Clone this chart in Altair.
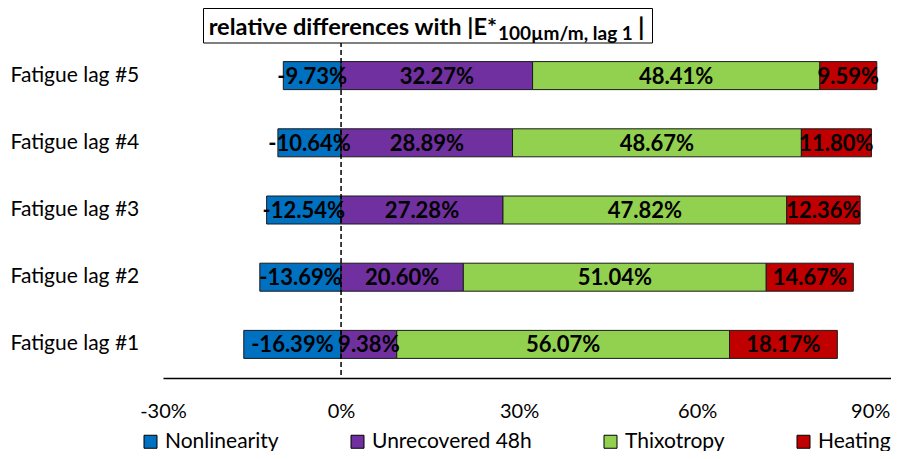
import altair as alt
import pandas as pd

lags = ["Fatigue lag #5", "Fatigue lag #4", "Fatigue lag #3", "Fatigue lag #2", "Fatigue lag #1"]
series = ["Nonlinearity", "Unrecovered 48h", "Thixotropy", "Heating"]
colors = ["#0070C0", "#7030A0", "#92D050", "#C00000"]

nonlinearity = [-9.73, -10.64, -12.54, -13.69, -16.39]
unrecovered = [32.27, 28.89, 27.28, 20.60, 9.38]
thixotropy = [48.41, 48.67, 47.82, 51.04, 56.07]
heating = [9.59, 11.80, 12.36, 14.67, 18.17]

x_ticks = [-30, 0, 30, 60, 90]

rows = []
for i, lag in enumerate(lags):
    rows.append(dict(lag=lag, series=series[0], order=0, start=nonlinearity[i], end=0.0,
                     value=nonlinearity[i]))
    pos = 0.0
    for k, arr in enumerate([unrecovered, thixotropy, heating], start=1):
        v = arr[i]
        rows.append(dict(lag=lag, series=series[k], order=k, start=pos, end=pos + v, value=v))
        pos += v
df = pd.DataFrame(rows)
df["mid"] = (df["start"] + df["end"]) / 2
df["label"] = df["value"].map(lambda v: f"{v:.2f}%")

W, H = 728, 336
xscale = alt.Scale(domain=[-30, 92.66], nice=False, zero=False)
yscale = alt.Scale(domain=lags, paddingInner=0.58, paddingOuter=0.29)

base = alt.Chart(df)

bars = base.mark_bar(size=28, stroke="#1a1a1a", strokeWidth=1).encode(
    x=alt.X("start:Q", scale=xscale,
            axis=alt.Axis(values=x_ticks, labelExpr="datum.value + '%'", title=None,
                          grid=False, ticks=False, tickSize=0, domain=True,
                          domainColor="black", domainWidth=1.5, labelFontSize=20,
                          labelColor="black", labelPadding=23, labelFlush=False,
                          labelOffset={"condition": {"test": "datum.value == 90", "value": -5},
                                       "value": 0})),
    x2="end:Q",
    y=alt.Y("lag:N", scale=yscale,
            axis=alt.Axis(title=None, ticks=False, tickSize=0, domain=False, grid=False,
                          labelAlign="left", labelPadding=153, labelFontSize=21,
                          labelColor="black")),
    color=alt.Color("series:N", scale=alt.Scale(domain=series, range=colors),
                    legend=alt.Legend(title=None, orient="none", direction="horizontal",
                                      legendX=-23, legendY=389, symbolType="square",
                                      symbolSize=169, symbolStrokeColor="black",
                                      symbolStrokeWidth=1, labelFontSize=21,
                                      labelColor="black", labelOffset=4,
                                      columnPadding=68, padding=0)),
    order=alt.Order("order:Q"),
)

zero_line = alt.Chart(pd.DataFrame({"x": [0]})).mark_rule(
    color="black", strokeWidth=1.5, strokeDash=[5, 3]).encode(
    x=alt.X("x:Q", scale=xscale),
    y=alt.value(0), y2=alt.value(H))

labels = base.mark_text(fontSize=22, fontWeight="bold", color="black", baseline="middle",
                        dy=1).encode(
    x=alt.X("mid:Q", scale=xscale),
    y=alt.Y("lag:N", scale=yscale),
    text="label:N",
)

title_box = alt.Chart(pd.DataFrame({"a": [0]})).mark_rect(
    fill="white", stroke="black", strokeWidth=1).encode(
    x=alt.value(40.5), x2=alt.value(489.5), y=alt.value(-33.5), y2=alt.value(1))

title_main = alt.Chart(pd.DataFrame({"t": ["relative differences with  |E*"]})).mark_text(
    fontSize=23.6, fontWeight="bold", color="black", align="right", baseline="alphabetic").encode(
    x=alt.value(334), y=alt.value(-7), text="t:N")
title_sub = alt.Chart(pd.DataFrame({"t": ["100µm/m, lag 1"]})).mark_text(
    fontSize=19, fontWeight="bold", color="black", align="left", baseline="alphabetic").encode(
    x=alt.value(335), y=alt.value(-2), text="t:N")
title_end = alt.Chart(pd.DataFrame({"t": ["|"]})).mark_text(
    fontSize=25, fontWeight="bold", color="black", align="left", baseline="alphabetic").encode(
    x=alt.value(475), y=alt.value(-6), text="t:N")

chart = alt.layer(bars, zero_line, labels, title_box, title_main, title_sub, title_end).properties(
    width=W, height=H,
    autosize=alt.AutoSizeParams(type="none"),
    padding={"left": 155, "top": 34, "right": 0, "bottom": 73},
).configure(font="Lato").configure_view(stroke=None)

chart.save("out.html", embed_options={"renderer": "svg", "actions": False})
